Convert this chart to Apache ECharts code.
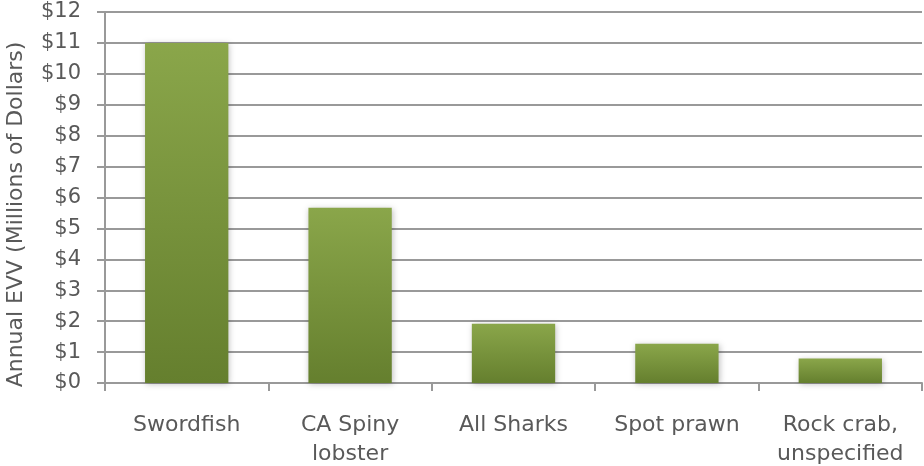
<!DOCTYPE html>
<html><head><meta charset="utf-8">
<script src="https://cdn.jsdelivr.net/npm/echarts@6/dist/echarts.min.js"></script>
<style>html,body{margin:0;padding:0;background:#fff}#c{width:924px;height:466px}</style>
</head><body><div id="c"></div>
<script>
const categories = ['Swordfish', 'CA Spiny\nlobster', 'All Sharks', 'Spot prawn', 'Rock crab,\nunspecified'];
const values = [11.0, 5.67, 1.92, 1.27, 0.79];
const yAxisName = 'Annual EVV (Millions of Dollars)';

const font = '"DejaVu Sans", sans-serif';
const chart = echarts.init(document.getElementById('c'));
chart.setOption({
  animation: false,
  grid: {left: 105, right: 2, top: 12, bottom: 83, containLabel: false, outerBoundsMode: 'none'},
  xAxis: {
    type: 'category', data: categories,
    axisLine: {lineStyle: {color: '#999', width: 2}},
    axisTick: {show: true, length: 8, alignWithLabel: false, lineStyle: {color: '#999', width: 2}},
    axisLabel: {color: '#595959', fontSize: 22, fontFamily: font, margin: 28, lineHeight: 29, interval: 0}
  },
  yAxis: {
    type: 'value', min: 0, max: 12, interval: 1,
    name: yAxisName, nameLocation: 'middle', nameGap: 78, nameRotate: 90,
    nameTextStyle: {color: '#595959', fontSize: 22, fontFamily: font, padding: [0, 34, 0, 0]},
    axisLine: {show: true, lineStyle: {color: '#999', width: 2}},
    axisTick: {show: true, length: 8, lineStyle: {color: '#999', width: 2}},
    splitLine: {lineStyle: {color: '#999', width: 2}},
    axisLabel: {color: '#595959', fontSize: 21, fontFamily: font, margin: 24, formatter: v => '$' + v}
  },
  series: [{
    type: 'bar', data: values, barCategoryGap: '49%',
    itemStyle: {
      color: new echarts.graphic.LinearGradient(0, 0, 0, 1, [
        {offset: 0, color: '#8aa64a'}, {offset: 1, color: '#657f2e'}
      ]),
      shadowColor: 'rgba(0,0,0,0.25)', shadowBlur: 6, shadowOffsetX: 1, shadowOffsetY: 1
    }
  }]
});
</script></body></html>
